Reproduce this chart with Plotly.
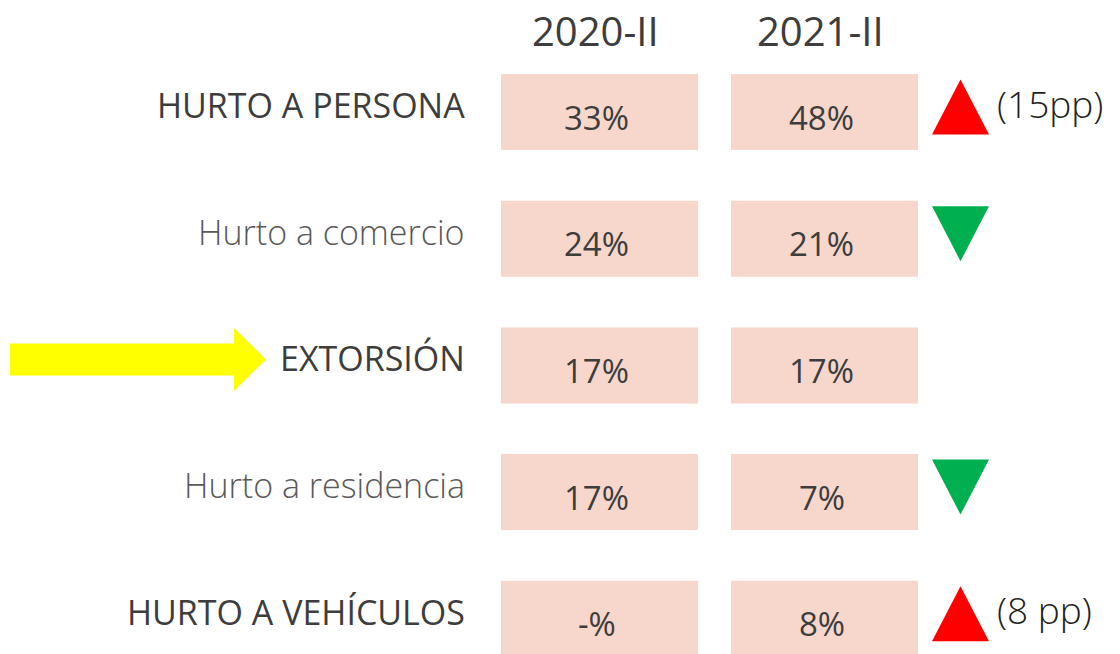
import plotly.graph_objects as go

# ---------------- data ----------------
categories = ["HURTO A PERSONA", "Hurto a comercio", "EXTORSIÓN",
              "Hurto a residencia", "HURTO A VEHÍCULOS"]
periods = ["2020-II", "2021-II"]
values_2020 = [33, 24, 17, 17, None]
values_2021 = [48, 21, 17, 7, 8]
trend = ["up", "down", "", "down", "up"]
change_labels = ["(15pp)", "", "", "", "(8 pp)"]
highlighted = ["EXTORSIÓN"]

# ---------------- layout constants (pixels) ----------------
W, H = 1120, 654
ROW0_PX = 112.0
ROW_STEP_PX = 126.7
COL_LEFT = [501, 731]
COL_WIDTH = [197, 187]
CELL_H = 76
LABEL_RIGHT = 466
TRI_X = 960.5
TRI_HALF_W = 28.5
TRI_H = 55
DELTA_LEFT = 996
FONT = "Open Sans"
DARK = "#3d3d3d"
LIGHT = "#595959"
CELL_COLOR = "#F7D7CB"
UP_COLOR = "#FF0000"
DOWN_COLOR = "#00B050"
ARROW_COLOR = "#FFFF00"


def dy(px):
    """pixel offset -> data units on the row axis"""
    return px / ROW_STEP_PX


rows = list(range(len(categories)))
fig = go.Figure()

# cells
for j, vals in enumerate([values_2020, values_2021]):
    fig.add_trace(go.Bar(
        y=rows, x=[COL_WIDTH[j]] * len(rows), base=COL_LEFT[j],
        orientation="h", width=dy(CELL_H),
        marker=dict(color=CELL_COLOR, line=dict(width=0)),
        hoverinfo="skip", showlegend=False, name=periods[j]))

annotations = []

# headers
for j, p in enumerate(periods):
    annotations.append(dict(
        x=COL_LEFT[j] + COL_WIDTH[j] / 2 - 4, y=dy(30 - ROW0_PX),
        text=p, showarrow=False, xanchor="center", yanchor="middle",
        font=dict(family=FONT, size=40, color=DARK), borderpad=0))

# cell values
for j, vals in enumerate([values_2020, values_2021]):
    for i, v in enumerate(vals):
        txt = "-%" if v is None else f"{v}%"
        annotations.append(dict(
            x=COL_LEFT[j] + COL_WIDTH[j] / 2 - 3, y=i + dy(5),
            text=txt, showarrow=False, xanchor="center", yanchor="middle",
            font=dict(family=FONT, size=33, color=DARK), borderpad=0))

# row labels
for i, c in enumerate(categories):
    upper = c.isupper()
    annotations.append(dict(
        x=LABEL_RIGHT, y=i + dy(-7), text=c, showarrow=False,
        xanchor="right", yanchor="middle",
        font=dict(family=FONT, size=34, color=DARK if upper else LIGHT,
                  weight=400 if upper else 300),
        borderpad=0))

# change labels
for i, t in enumerate(change_labels):
    if t:
        annotations.append(dict(
            x=DELTA_LEFT, y=i + dy(-9), text=t, showarrow=False,
            xanchor="left", yanchor="middle",
            font=dict(family=FONT, size=37, color="#222222", weight=300),
            borderpad=0))

# trend triangles
for i, t in enumerate(trend):
    if not t:
        continue
    c = i + dy(-5)
    hh = dy(TRI_H / 2)
    xs = [TRI_X - TRI_HALF_W, TRI_X + TRI_HALF_W, TRI_X, TRI_X - TRI_HALF_W]
    if t == "up":
        ys = [c + hh, c + hh, c - hh, c + hh]
        col = UP_COLOR
    else:
        ys = [c - hh, c - hh, c + hh, c - hh]
        col = DOWN_COLOR
    fig.add_trace(go.Scatter(x=xs, y=ys, mode="lines", fill="toself",
                             fillcolor=col, line=dict(width=0, color=col),
                             hoverinfo="skip", showlegend=False))

# highlight arrow
for name in highlighted:
    i = categories.index(name)
    c = i + dy(-6)
    ax = [10, 234, 234, 266, 234, 234, 10, 10]
    ay_px = [-16, -16, -31.5, 0, 31.5, 16, 16, -16]
    fig.add_trace(go.Scatter(x=ax, y=[c + dy(v) for v in ay_px],
                             mode="lines", fill="toself",
                             fillcolor=ARROW_COLOR,
                             line=dict(width=0, color=ARROW_COLOR),
                             hoverinfo="skip", showlegend=False))

fig.update_layout(
    width=W, height=H,
    margin=dict(l=0, r=0, t=0, b=0),
    paper_bgcolor="white", plot_bgcolor="white",
    barmode="overlay",
    showlegend=False,
    annotations=annotations,
    xaxis=dict(range=[0, W], visible=False, fixedrange=True),
    yaxis=dict(range=[dy(H - ROW0_PX), dy(-ROW0_PX)],
               visible=False, fixedrange=True),
)

fig.write_html(
    "out.html",
    config={"displayModeBar": False},
    post_script="document.body.style.margin='0';"
                "document.body.style.overflow='hidden';",
)
